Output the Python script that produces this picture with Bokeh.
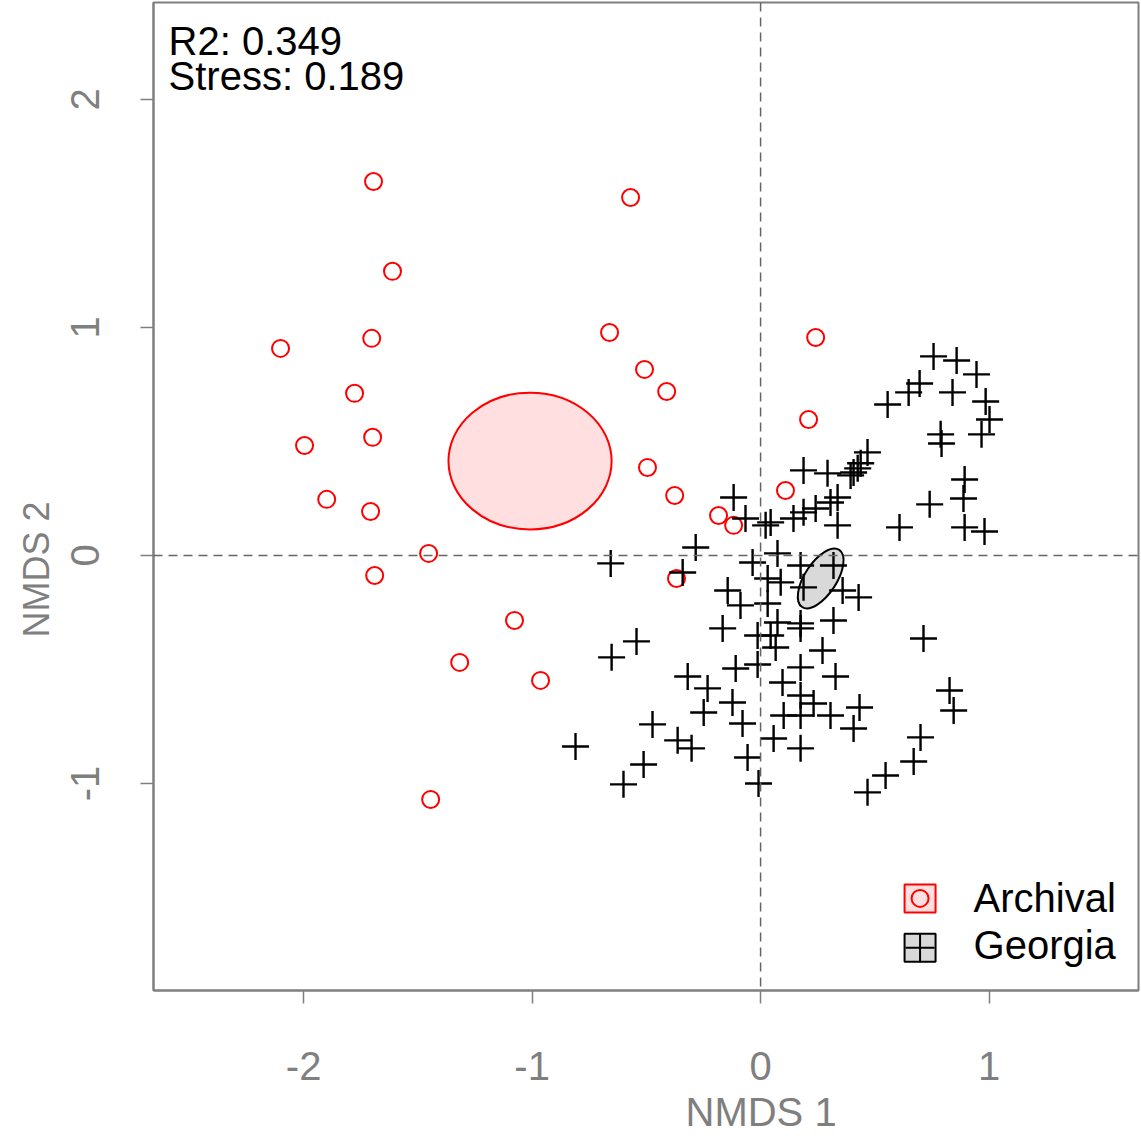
from bokeh.plotting import figure
from bokeh.models import Span, Label, FixedTicker, Range1d, Title
from bokeh.embed import file_html
from bokeh.resources import INLINE

# NMDS scores, Archival samples
arch_x = [-1.694, -0.569, -1.611, -2.101, -1.702, -0.661, 0.241, -0.508, -0.411,
          -1.777, 0.210, -1.996, -1.698, -0.495, -0.376, -1.899, 0.109, -1.707,
          -0.184, -0.118, -1.453, -1.689, -0.368, -1.077, -1.317, -0.963, -1.444]
arch_y = [1.640, 1.570, 1.246, 0.908, 0.952, 0.978, 0.956, 0.816, 0.719,
          0.711, 0.596, 0.482, 0.518, 0.386, 0.263, 0.246, 0.285, 0.193,
          0.175, 0.132, 0.009, -0.088, -0.101, -0.285, -0.469, -0.548, -1.070]

# NMDS scores, Georgia samples
geo_x = [0.757, 0.858, 0.945, 0.696, 0.648, 0.840, 0.556, 0.985, 1.002, 0.967,
         0.788, 0.792, 0.893, 0.888, 0.740, 0.608, 0.893, 0.980,
         0.468, 0.438, 0.425, 0.407, 0.394, 0.188, 0.293, -0.118, 0.337, 0.306,
         0.241, 0.188, 0.144, -0.066, 0.044, 0.022, 0.337, -0.284,
         0.074, -0.035, 0.175, 0.319, 0.031, 0.088, -0.144, 0.188, 0.359, 0.429,
         -0.088, 0.031, 0.319, 0.175, 0.074, -0.166, -0.013, 0.044, 0.175, 0.066,
         0.271,
         -0.656, -0.341, -0.543, -0.652,
         -0.109, -0.013, 0.175, 0.096, 0.328, -0.319, -0.232, 0.175, 0.232, -0.123,
         -0.249, 0.101, 0.175, 0.306, 0.433, 0.407, -0.079, -0.473, -0.363, -0.302,
         0.057, 0.175, -0.810, -0.057, -0.512, -0.600, -0.009, 0.547, 0.468,
         0.713, 0.827, 0.845, 0.700, 0.670]
geo_y = [0.873, 0.855, 0.794, 0.754, 0.715, 0.715, 0.662, 0.675, 0.596, 0.531,
         0.531, 0.491, 0.333, 0.250, 0.224, 0.123, 0.123, 0.105,
         0.452, 0.404, 0.382, 0.364, 0.351, 0.373, 0.360, 0.254, 0.254, 0.232,
         0.206, 0.189, 0.162, 0.162, 0.145, 0.132, 0.132, 0.035,
         0.009, -0.031, -0.044, -0.044, -0.101, -0.118, -0.154, -0.140, -0.154, -0.184,
         -0.219, -0.211, -0.285, -0.298, -0.294, -0.320, -0.351, -0.351, -0.320, -0.404,
         -0.417,
         -0.035, -0.075, -0.377, -0.447,
         -0.496, -0.478, -0.491, -0.557, -0.531, -0.531, -0.583, -0.614, -0.649, -0.645,
         -0.689, -0.702, -0.702, -0.702, -0.667, -0.759, -0.737, -0.741, -0.811, -0.846,
         -0.803, -0.846, -0.838, -0.886, -0.917, -1.004, -1.000, -0.965, -1.039,
         -0.364, -0.592, -0.680, -0.798, -0.904]

# standard-error ellipses per group: centre, semi-axes, rotation (degrees)
ell_groups = ["Archival", "Georgia"]
ell_cx = [-1.009, 0.263]
ell_cy = [0.414, -0.101]
ell_a = [0.357, 0.149]
ell_b = [0.300, 0.070]
ell_deg = [0.0, 57.0]

x_ticks = [-2, -1, 0, 1]
y_ticks = [-1, 0, 1, 2]
fit_lines = ["R2: 0.349", "Stress: 0.189"]

FONT = "Liberation Sans"
GREY = "#7f7f7f"
RED = "#ff0000"
PINK = "#ffdfe0"
LIGHT = "#d9d9d9"

p = figure(width=1141, height=1139, output_backend="svg", toolbar_location=None,
           x_range=Range1d(-2.657, 1.654), y_range=Range1d(-1.908, 2.425),
           min_border_left=153, min_border_right=3, min_border_top=2,
           min_border_bottom=149)
p.background_fill_color = "white"
p.border_fill_color = "white"
p.outline_line_color = GREY
p.outline_line_width = 2
p.grid.visible = False

for ax, ticks in ((p.xaxis, x_ticks), (p.yaxis, y_ticks)):
    ax.ticker = FixedTicker(ticks=ticks)
    ax.major_label_overrides = {t: str(t) for t in ticks}
    ax.minor_tick_line_color = None
    ax.major_tick_in = 0
    ax.major_tick_out = 13
    ax.major_tick_line_color = GREY
    ax.major_tick_line_width = 1.5
    ax.axis_line_color = GREY
    ax.axis_line_width = 2
    ax.major_label_text_font = FONT
    ax.major_label_text_font_size = "40px"
    ax.major_label_text_color = GREY
p.xaxis.major_label_standoff = 48
p.yaxis.major_label_standoff = 41
p.yaxis.major_label_orientation = "vertical"

# axis titles, centred on the origin rather than on the frame
p.add_layout(Title(text="NMDS 1", align="left", offset=532, text_font=FONT,
                   text_font_size="40px", text_font_style="normal",
                   text_color=GREY, standoff=10), "below")
p.add_layout(Title(text="NMDS 2", align="left", offset=353, text_font=FONT,
                   text_font_size="36px", text_font_style="normal",
                   text_color=GREY, standoff=23), "left")

# reference lines through the origin
for dim in ("width", "height"):
    p.add_layout(Span(location=0, dimension=dim, line_color="#666666",
                      line_width=1.5, line_dash="9 6"))

# group ellipses
fills = [PINK, LIGHT]
lines = [RED, "black"]
for i in range(len(ell_groups)):
    p.ellipse(x=ell_cx[i], y=ell_cy[i], width=2 * ell_a[i], height=2 * ell_b[i],
              angle=ell_deg[i], angle_units="deg", fill_color=fills[i],
              line_color=lines[i], line_width=2)

p.scatter(arch_x, arch_y, marker="circle", size=17, fill_color=None,
          line_color=RED, line_width=2)
p.scatter(geo_x, geo_y, marker="cross", size=27, line_color="black",
          line_width=2.4)

# fit statistics
for txt, yy in zip(fit_lines, [2.254, 2.101]):
    p.add_layout(Label(x=-2.591, y=yy, text=txt, text_font=FONT,
                       text_font_size="40px", text_color="black",
                       text_baseline="alphabetic"))

# legend keys
key_x = 0.698
key_y = [-1.504, -1.721]
p.rect(x=[key_x], y=[key_y[0]], width=31, height=28, width_units="screen",
       height_units="screen", fill_color=PINK, line_color=RED, line_width=2)
p.scatter(x=[key_x], y=[key_y[0]], marker="circle", size=17, fill_color=None,
          line_color=RED, line_width=2)
p.rect(x=[key_x], y=[key_y[1]], width=31, height=28, width_units="screen",
       height_units="screen", fill_color=LIGHT, line_color="black", line_width=2)
p.scatter(x=[key_x], y=[key_y[1]], marker="cross", size=29, line_color="black",
          line_width=2)
for name, yy in zip(ell_groups, [-1.504, -1.710]):
    p.add_layout(Label(x=0.932, y=yy, text=name, text_font=FONT,
                       text_font_size="40px", text_color="black",
                       text_baseline="middle"))

open("out.html", "w").write(file_html(p, INLINE))
